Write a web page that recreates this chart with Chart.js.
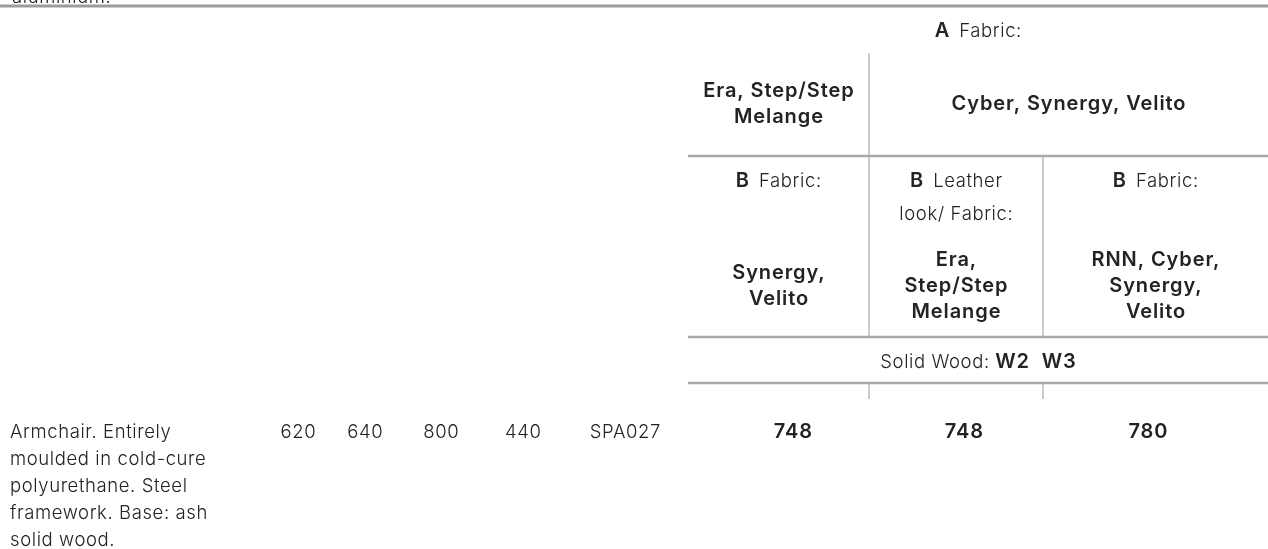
<!DOCTYPE html>
<html>
<head>
<meta charset="utf-8">
<script src="https://cdn.jsdelivr.net/npm/chart.js@4"></script>
<style>
html,body{margin:0;padding:0;background:#fff;}
#wrap{width:1268px;height:549px;position:relative;}
</style>
</head>
<body>
<div id="wrap"><canvas id="c" width="1268" height="549"></canvas></div>
<script>
// ---------- data ----------
const topCutText = 'aluminium.';
const description = ['Armchair. Entirely', 'moulded in cold-cure', 'polyurethane. Steel', 'framework. Base: ash', 'solid wood.'];
const dimensions = [620, 640, 800, 440];
const productCode = 'SPA027';
const groupAHeader = ['A', 'Fabric:'];
const groupAFabrics = [['Era, Step/Step', 'Melange'], ['Cyber, Synergy, Velito']];
const groupBHeaders = [['B', 'Fabric:'], ['B', 'Leather', 'look/ Fabric:'], ['B', 'Fabric:']];
const groupBFabrics = [['Synergy,', 'Velito'], ['Era,', 'Step/Step', 'Melange'], ['RNN, Cyber,', 'Synergy,', 'Velito']];
const woodLabel = ['Solid Wood:', 'W2  W3'];
const prices = [748, 748, 780];

// ---------- layout (page units mapped through the chart's scales) ----------
const LAY = {
  W: 1268, H: 549,
  tableLeft: 688, tableRight: 1268,
  div1: 869, div2: 1043,
  descX: 10,
  dimCenters: [298, 365, 441, 523],
  codeCenter: 625,
  priceCenters: [793, 964, 1148],
  rowY: 431, descStep: 27,
  topLineY: 6,
  aHeaderY: 30, divTop: 53,
  aFabY: [89.5, 115.5], aFab2Y: 103,
  hLine1: 156,
  bHeadY: 180, bHead2Y: 213,
  bFabY3: [259, 285, 311], bFabY2: [272, 298],
  hLine2: 337, woodY: 361, hLine3: 383, tickEnd: 399
};
const BOLD = { font: '600 20px Inter, "Noto Sans", sans-serif', px: 20, ls: 0.9 };
const LIGHT = { font: '300 18.5px Inter, "Noto Sans", sans-serif', px: 18.5, ls: 0.6 };
const INK = '#232323';
const LINE = '#a9a9a9';

const colCenters = [
  (LAY.tableLeft + LAY.div1) / 2,
  (LAY.div1 + LAY.div2) / 2,
  (LAY.div2 + LAY.tableRight) / 2
];

// marks as chart points (invisible); labels drawn at their pixel positions
const priceData = prices.map((p, i) => ({ x: LAY.priceCenters[i], y: LAY.rowY }));
const dimData = dimensions.map((d, i) => ({ x: LAY.dimCenters[i], y: LAY.rowY }));

function capBase(y, px) { return y + px * 0.727 / 2; }
function setFont(ctx, f) { ctx.font = f.font; ctx.letterSpacing = f.ls + 'px'; }

const tablePlugin = {
  id: 'tablePlugin',
  afterDatasetsDraw(chart) {
    const ctx = chart.ctx;
    const xs = chart.scales.x, ys = chart.scales.y;
    const X = v => xs.getPixelForValue(v);
    const Y = v => ys.getPixelForValue(v);

    function hline(y, x0, x1, w, col) {
      ctx.save(); ctx.strokeStyle = col || LINE; ctx.lineWidth = w;
      ctx.beginPath(); ctx.moveTo(X(x0), Y(y)); ctx.lineTo(X(x1), Y(y)); ctx.stroke(); ctx.restore();
    }
    function vline(x, y0, y1, w) {
      ctx.save(); ctx.strokeStyle = LINE; ctx.lineWidth = w || 1.2;
      ctx.beginPath(); ctx.moveTo(X(x), Y(y0)); ctx.lineTo(X(x), Y(y1)); ctx.stroke(); ctx.restore();
    }
    function textPx(str, px, py, f, align) {
      ctx.save(); setFont(ctx, f); ctx.fillStyle = INK; ctx.textBaseline = 'alphabetic'; ctx.textAlign = 'left';
      const w = ctx.measureText(str).width - f.ls;
      let x = px;
      if ((align || 'center') === 'center') x = px - w / 2;
      ctx.fillText(str, x, capBase(py, f.px)); ctx.restore();
    }
    function text(str, cx, cy, f, align) { textPx(str, X(cx), Y(cy), f, align); }
    function runs(parts, cx, cy) { // parts: [{t, f, gap}]
      ctx.save(); ctx.fillStyle = INK; ctx.textBaseline = 'alphabetic'; ctx.textAlign = 'left';
      let total = 0;
      parts.forEach((p, i) => {
        setFont(ctx, p.f); p.w = ctx.measureText(p.t).width - p.f.ls;
        total += p.w + (i < parts.length - 1 ? (p.gap || 0) : 0);
      });
      let x = X(cx) - total / 2;
      parts.forEach(p => {
        setFont(ctx, p.f);
        ctx.fillText(p.t, x, capBase(Y(cy), 20)); x += p.w + (p.gap || 0);
      });
      ctx.restore();
    }

    // cut-off text at very top
    ctx.save(); setFont(ctx, LIGHT); ctx.fillStyle = INK; ctx.textAlign = 'left'; ctx.textBaseline = 'alphabetic';
    ctx.fillText(topCutText, X(LAY.descX + 2), Y(2.5)); ctx.restore();

    // rules
    hline(LAY.topLineY, 0, LAY.W, 3, '#9c9c9c');
    vline(LAY.div1, LAY.divTop, LAY.hLine1);
    hline(LAY.hLine1, LAY.tableLeft, LAY.tableRight, 2.5);
    vline(LAY.div1, LAY.hLine1, LAY.hLine2);
    vline(LAY.div2, LAY.hLine1, LAY.hLine2);
    hline(LAY.hLine2, LAY.tableLeft, LAY.tableRight, 2.5);
    hline(LAY.hLine3, LAY.tableLeft, LAY.tableRight, 2.5);
    vline(LAY.div1, LAY.hLine3, LAY.tickEnd);
    vline(LAY.div2, LAY.hLine3, LAY.tickEnd);

    // header A
    runs([{ t: groupAHeader[0], f: BOLD, gap: 10 }, { t: groupAHeader[1], f: LIGHT }], (LAY.tableLeft + LAY.tableRight) / 2, LAY.aHeaderY);
    groupAFabrics[0].forEach((s, i) => text(s, colCenters[0], LAY.aFabY[i], BOLD));
    text(groupAFabrics[1][0], (LAY.div1 + LAY.tableRight) / 2, LAY.aFab2Y, BOLD);

    // header B
    groupBHeaders.forEach((h, i) => {
      runs([{ t: h[0], f: BOLD, gap: 10 }, { t: h[1], f: LIGHT }], colCenters[i], LAY.bHeadY);
      if (h[2]) text(h[2], colCenters[i], LAY.bHead2Y, LIGHT);
    });
    groupBFabrics.forEach((lines, i) => {
      const ys2 = lines.length === 3 ? LAY.bFabY3 : LAY.bFabY2;
      lines.forEach((s, k) => text(s, colCenters[i], ys2[k], BOLD));
    });

    // wood
    runs([{ t: woodLabel[0], f: LIGHT, gap: 6 }, { t: woodLabel[1], f: BOLD }], (LAY.tableLeft + LAY.tableRight) / 2, LAY.woodY);

    // description
    description.forEach((s, i) => text(s, LAY.descX, LAY.rowY + i * LAY.descStep, LIGHT, 'left'));

    // dimensions + code drawn at the chart's element positions
    chart.getDatasetMeta(1).data.forEach((el, i) => textPx(String(dimensions[i]), el.x, el.y, LIGHT));
    text(productCode, LAY.codeCenter, LAY.rowY, LIGHT);

    // prices drawn at the chart's element positions
    chart.getDatasetMeta(0).data.forEach((el, i) => textPx(String(prices[i]), el.x, el.y, BOLD));
  }
};

new Chart(document.getElementById('c'), {
  type: 'scatter',
  data: {
    datasets: [
      { label: 'Price', data: priceData, pointRadius: 0, pointHoverRadius: 0 },
      { label: 'Dimensions', data: dimData, pointRadius: 0, pointHoverRadius: 0 }
    ]
  },
  options: {
    responsive: false,
    animation: false,
    events: [],
    layout: { padding: 0 },
    plugins: { legend: { display: false }, tooltip: { enabled: false } },
    scales: {
      x: { type: 'linear', min: 0, max: LAY.W, display: false },
      y: { type: 'linear', min: 0, max: LAY.H, reverse: true, display: false }
    }
  },
  plugins: [tablePlugin]
});
</script>
</body>
</html>
